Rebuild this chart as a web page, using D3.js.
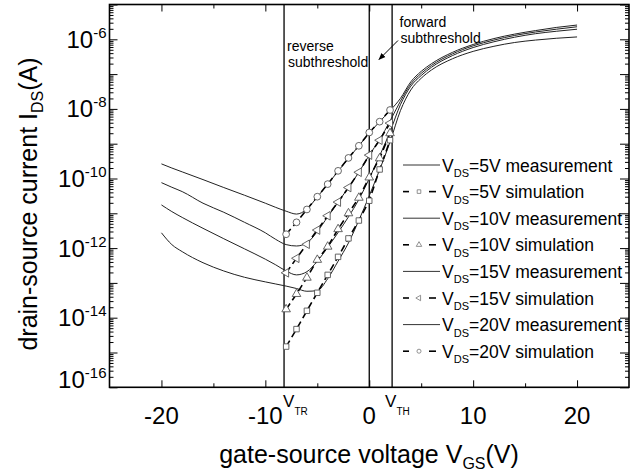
<!DOCTYPE html>
<html>
<head>
<meta charset="utf-8">
<script src="https://cdn.jsdelivr.net/npm/d3@7"></script>
<style>
body { margin: 0; background: #fff; }
svg { font-family: Arial, "Liberation Sans", sans-serif; display: block; }
</style>
</head>
<body>
<svg id="chart"></svg>
<script>
// gate-source voltage grid of the measured curves (V)
var vgsMeas = [-20, -19, -18, -16, -14, -12, -10, -9, -8, -7, -6, -5, -4, -3, -2, -1, 0, 1, 2, 3, 4, 5, 6, 8, 10, 12, 14, 16, 18, 20];

// measured drain current (A)
var meas5 = [2.75e-12, 1.26e-12, 7.9e-13, 3.8e-13, 2.2e-13, 1.45e-13, 1.07e-13, 9.3e-14, 8.1e-14, 6.9e-14, 5.75e-14, 6.0e-14, 1.32e-13, 4.2e-13, 1.41e-12, 6.3e-12, 3.2e-11, 1.78e-10, 1.12e-9, 8.9e-9, 3.5e-8, 7.6e-8, 1.32e-7, 2.75e-7, 4.5e-7, 6.3e-7, 8.1e-7, 9.5e-7, 1.07e-6, 1.17e-6];
var meas10 = [1.74e-11, 1.12e-11, 7.6e-12, 3.7e-12, 1.86e-12, 9.5e-13, 4.8e-13, 3.3e-13, 2.2e-13, 1.7e-13, 2.1e-13, 4.2e-13, 1.05e-12, 2.8e-12, 7.9e-12, 2.5e-11, 1.0e-10, 4.5e-10, 2.2e-9, 1.32e-8, 4.5e-8, 9.1e-8, 1.58e-7, 3.4e-7, 5.8e-7, 8.5e-7, 1.15e-6, 1.45e-6, 1.7e-6, 1.95e-6];
var meas15 = [7.6e-11, 5.6e-11, 4.2e-11, 1.95e-11, 1.07e-11, 5.5e-12, 2.75e-12, 1.78e-12, 1.26e-12, 1.15e-12, 1.41e-12, 3.0e-12, 7.9e-12, 2.1e-11, 5.5e-11, 1.51e-10, 4.7e-10, 1.32e-9, 4.5e-9, 1.66e-8, 5.2e-8, 1.05e-7, 1.78e-7, 3.8e-7, 6.5e-7, 9.5e-7, 1.29e-6, 1.62e-6, 1.95e-6, 2.29e-6];
var meas20 = [2.63e-10, 2.0e-10, 1.55e-10, 9.3e-11, 5.5e-11, 3.3e-11, 1.95e-11, 1.48e-11, 1.15e-11, 9.5e-12, 1.32e-11, 2.95e-11, 6.8e-11, 1.62e-10, 3.8e-10, 8.7e-10, 2.0e-9, 4.3e-9, 8.9e-9, 2.0e-8, 6.0e-8, 1.2e-7, 2.0e-7, 4.2e-7, 7.1e-7, 1.05e-6, 1.41e-6, 1.78e-6, 2.19e-6, 2.57e-6];

// simulated points (A)
var vgsSim = [-8, -7, -6, -5, -4, -3, -2, -1, 0, 1, 2];
var sim5 = [1.48e-15, 4.7e-15, 1.58e-14, 5.2e-14, 1.7e-13, 5.6e-13, 1.9e-12, 6.2e-12, 2.3e-11, 1.82e-10, 1.26e-9];
var sim10 = [1.74e-14, 4.8e-14, 1.41e-13, 4.6e-13, 1.1e-12, 3.5e-12, 1.0e-11, 2.8e-11, 1.07e-10, 3.8e-10, 2.0e-9];
var sim15 = [1.95e-13, 5.1e-13, 1.29e-12, 3.3e-12, 8.5e-12, 2.1e-11, 5.5e-11, 1.51e-10, 4.7e-10, 1.26e-9, 3.9e-9];
var sim20 = [2.5e-12, 5.5e-12, 1.29e-11, 3.0e-11, 6.9e-11, 1.66e-10, 3.9e-10, 8.7e-10, 2.1e-9, 4.3e-9, 9.3e-9];

var vdsLabels = ["5V", "10V", "15V", "20V"];
var xTickLabels = [-20, -10, 0, 10, 20];
var xMinorTicks = [-15, -5, 5, 15];
var yLabelExps = [-6, -8, -10, -12, -14, -16];
var vTR = -8.2;
var vTH = 2.2;

var width = 638;
var height = 472;

var svg = d3.select("#chart")
    .attr("width", width)
    .attr("height", height);

// plot frame (window.top is read-only, so prefix these)
var pLeft = 109.5, pRight = 629, pTop = 4.5, pBottom = 387.3;

var x = d3.scaleLinear().domain([-25, 25]).range([pLeft, pRight]);
var y = d3.scaleLog().domain([1e-16, 1e-5]).range([pBottom, pTop]);

var decades = d3.range(-16, -4).map(function (e) { return Math.pow(10, e); });
var yMinor = [];
d3.range(-16, -5).forEach(function (e) {
    d3.range(2, 10).forEach(function (m) { yMinor.push(m * Math.pow(10, e)); });
});

//ticks (all inward)
function ticks(axis, pos, values, size) {
    var g = svg.append("g")
        .attr("transform", pos)
        .call(axis.tickValues(values).tickSize(size).tickFormat(""));
    g.select(".domain").remove();
    g.selectAll("line").attr("stroke", "#000").attr("stroke-width", 1);
}
ticks(d3.axisBottom(x), "translate(0," + pBottom + ")", xTickLabels, -7);
ticks(d3.axisBottom(x), "translate(0," + pBottom + ")", xMinorTicks, -4);
ticks(d3.axisTop(x), "translate(0," + pTop + ")", xTickLabels, -7);
ticks(d3.axisTop(x), "translate(0," + pTop + ")", xMinorTicks, -4);
ticks(d3.axisLeft(y), "translate(" + pLeft + ",0)", decades, -8);
ticks(d3.axisLeft(y), "translate(" + pLeft + ",0)", yMinor, -4);
ticks(d3.axisRight(y), "translate(" + pRight + ",0)", decades, -9);
ticks(d3.axisRight(y), "translate(" + pRight + ",0)", yMinor, -4);

// frame
svg.append("rect")
    .attr("x", pLeft).attr("y", pTop)
    .attr("width", pRight - pLeft).attr("height", pBottom - pTop)
    .attr("fill", "none").attr("stroke", "#000").attr("stroke-width", 1.6);

// tick labels
svg.selectAll(".xlab")
    .data(xTickLabels)
    .enter().append("text")
    .attr("class", "xlab")
    .attr("x", function (d) { return x(d); })
    .attr("y", 424)
    .attr("text-anchor", "middle")
    .style("font-size", "24px")
    .text(function (d) { return d; });

var ylab = svg.selectAll(".ylab")
    .data(yLabelExps)
    .enter().append("text")
    .attr("class", "ylab")
    .attr("x", 106.5)
    .attr("y", function (d) { return y(Math.pow(10, d)) + (d === -16 ? 0.5 : 8.5); })
    .attr("text-anchor", "end")
    .style("font-size", "24px");
ylab.append("tspan").text("10");
ylab.append("tspan").attr("dy", -10).style("font-size", "15px").text(function (d) { return d; });

// axis titles
var xt = svg.append("text")
    .attr("x", 369).attr("y", 463)
    .attr("text-anchor", "middle")
    .style("font-size", "25px");
xt.append("tspan").text("gate-source voltage V");
xt.append("tspan").attr("dy", 6).style("font-size", "16px").text("GS");
xt.append("tspan").attr("dy", -6).text("(V)");

var yt = svg.append("text")
    .attr("transform", "translate(37,204) rotate(-90)")
    .attr("text-anchor", "middle")
    .style("font-size", "25px");
yt.append("tspan").text("drain-source current I");
yt.append("tspan").attr("dy", 6).style("font-size", "16px").text("DS");
yt.append("tspan").attr("dy", -6).text("(A)");

// threshold lines
svg.selectAll(".vline")
    .data([vTR, 0, vTH])
    .enter().append("line")
    .attr("class", "vline")
    .attr("x1", function (d) { return x(d); })
    .attr("x2", function (d) { return x(d); })
    .attr("y1", pTop).attr("y2", pBottom)
    .attr("stroke", "#000").attr("stroke-width", 1.3);

var vlab = svg.selectAll(".vlab")
    .data([{ v: vTR, sub: "TR", dx: -1 }, { v: vTH, sub: "TH", dx: -7 }])
    .enter().append("text")
    .attr("class", "vlab")
    .attr("x", function (d) { return x(d.v) + d.dx; })
    .attr("y", 407)
    .style("font-size", "17px");
vlab.append("tspan").text("V");
vlab.append("tspan").attr("dy", 8).style("font-size", "10px").text(function (d) { return d.sub; });

// curves
var measSeries = [meas5, meas10, meas15, meas20];
var simSeries = [sim5, sim10, sim15, sim20];
var symbols = [d3.symbolSquare, d3.symbolTriangle, d3.symbolTriangle, d3.symbolCircle];
var symbolRot = [0, 0, -90, 0];
var symbolSize = [30, 32, 32, 36];

var measLine = d3.line()
    .x(function (d, i) { return x(vgsMeas[i]); })
    .y(function (d) { return y(d); })
    .curve(d3.curveMonotoneX);

var simLine = d3.line()
    .x(function (d, i) { return x(vgsSim[i]); })
    .y(function (d) { return y(d); });

svg.selectAll(".meas")
    .data(measSeries)
    .enter().append("path")
    .attr("class", "meas")
    .attr("d", measLine)
    .attr("fill", "none")
    .attr("stroke", "#222")
    .attr("stroke-width", 1);

svg.selectAll(".sim")
    .data(simSeries)
    .enter().append("path")
    .attr("class", "sim")
    .attr("d", simLine)
    .attr("fill", "none")
    .attr("stroke", "#000")
    .attr("stroke-width", 1.6)
    .attr("stroke-dasharray", "7,4");

simSeries.forEach(function (s, k) {
    svg.selectAll(".pt" + k)
        .data(s)
        .enter().append("path")
        .attr("class", "pt" + k)
        .attr("d", d3.symbol().type(symbols[k]).size(symbolSize[k]))
        .attr("transform", function (d, i) {
            return "translate(" + x(vgsSim[i]) + "," + y(d) + ") rotate(" + symbolRot[k] + ")";
        })
        .attr("fill", "#fff")
        .attr("stroke", "#555")
        .attr("stroke-width", 0.9);
});

// legend
var legend = svg.append("g");
vdsLabels.forEach(function (lab, k) {
    var yMeas = 165 + (2 * k) * 26.6;
    var ySim = 165 + (2 * k + 1) * 26.6;

    legend.append("line")
        .attr("x1", 403).attr("x2", 440)
        .attr("y1", yMeas).attr("y2", yMeas)
        .attr("stroke", "#333").attr("stroke-width", 1);

    legend.append("line")
        .attr("x1", 403).attr("x2", 409)
        .attr("y1", ySim).attr("y2", ySim)
        .attr("stroke", "#000").attr("stroke-width", 1.6);
    legend.append("line")
        .attr("x1", 429).attr("x2", 436)
        .attr("y1", ySim).attr("y2", ySim)
        .attr("stroke", "#000").attr("stroke-width", 1.6);
    legend.append("path")
        .attr("d", d3.symbol().type(symbols[k]).size(13))
        .attr("transform", "translate(419," + ySim + ") rotate(" + symbolRot[k] + ")")
        .attr("fill", "#fff").attr("stroke", "#777").attr("stroke-width", 0.8);

    [[yMeas, "measurement"], [ySim, "simulation"]].forEach(function (row) {
        var t = legend.append("text")
            .attr("x", 442).attr("y", row[0] + 6.5)
            .style("font-size", "17.5px");
        t.append("tspan").text("V");
        t.append("tspan").attr("dy", 5.5).style("font-size", "11px").text("DS");
        t.append("tspan").attr("dy", -5.5).text("=" + lab + " " + row[1]);
    });
});

// annotations
function twoLines(x0, y0, a, b) {
    svg.append("text").attr("x", x0).attr("y", y0).style("font-size", "14px").text(a);
    svg.append("text").attr("x", x0 + 1).attr("y", y0 + 16).style("font-size", "14px").text(b);
}
twoLines(287, 51, "reverse", "subthreshold");
twoLines(399.5, 26.5, "forward", "subthreshold");

svg.append("defs").append("marker")
    .attr("id", "arrow")
    .attr("viewBox", "0 0 10 10")
    .attr("refX", 9).attr("refY", 5)
    .attr("markerWidth", 7).attr("markerHeight", 7)
    .attr("markerUnits", "userSpaceOnUse")
    .attr("orient", "auto")
    .append("path")
    .attr("d", "M0,1 L10,5 L0,9 Z")
    .attr("fill", "#000");

svg.append("line")
    .attr("x1", 398).attr("y1", 40.5)
    .attr("x2", 379).attr("y2", 59.5)
    .attr("stroke", "#000").attr("stroke-width", 1)
    .attr("marker-end", "url(#arrow)");
</script>
</body>
</html>
